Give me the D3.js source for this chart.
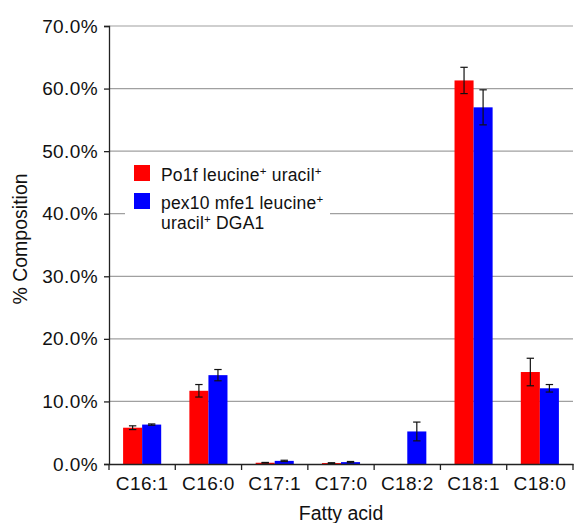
<!DOCTYPE html>
<html>
<head>
<meta charset="utf-8">
<script src="https://cdn.jsdelivr.net/npm/d3@7"></script>
<style>
  body { margin: 0; background: #fff; }
  text { font-family: "Liberation Sans", Arial, Helvetica, sans-serif; fill: #111; }
</style>
</head>
<body>
<div id="draw"></div>
<script>
// categories and series
var categories = ["C16:1", "C16:0", "C17:1", "C17:0", "C18:2", "C18:1", "C18:0"];
var seriesNames = ["Po1f", "pex10"];
var po1fValues = [5.8, 11.7, 0.2, 0.15, 0, 61.3, 14.7];
var po1fErrors = [0.3, 1.0, 0.05, 0.05, 0, 2.1, 2.2];
var pex10Values = [6.3, 14.2, 0.5, 0.3, 5.2, 57.0, 12.1];
var pex10Errors = [0.1, 0.9, 0.1, 0.1, 1.5, 2.8, 0.6];
var yTicks = [0, 10, 20, 30, 40, 50, 60, 70];
var colors = ["#ff0000", "#0000ff"];

var w = 574, h = 523;
var plotLeft = 109, plotRight = 573, plotTop = 26, plotBottom = 464;

var svg = d3.select("#draw").append("svg")
    .attr("width", w)
    .attr("height", h);

var x = d3.scaleBand().domain(categories).range([plotLeft, plotRight]);
var x1 = d3.scaleBand().domain(seriesNames).range([0, x.bandwidth()])
    .paddingInner(0).paddingOuter(0.74);
var y = d3.scaleLinear().domain([0, 70]).range([plotBottom, plotTop]);

//网格线
svg.append("g").selectAll("line")
    .data(yTicks.filter(function(d) { return d > 0; }))
    .enter().append("line")
    .attr("x1", plotLeft).attr("x2", plotRight)
    .attr("y1", function(d) { return y(d); })
    .attr("y2", function(d) { return y(d); })
    .attr("stroke", "#a0a0a0")
    .attr("stroke-width", 1.2);

// 数据整理
var rows = [];
categories.forEach(function(c, i) {
    rows.push({cat: c, s: "Po1f", v: po1fValues[i], e: po1fErrors[i], k: 0});
    rows.push({cat: c, s: "pex10", v: pex10Values[i], e: pex10Errors[i], k: 1});
});

//柱子
svg.append("g").selectAll("rect")
    .data(rows.filter(function(d) { return d.v > 0; }))
    .enter().append("rect")
    .attr("x", function(d) { return x(d.cat) + x1(d.s); })
    .attr("y", function(d) { return y(d.v); })
    .attr("width", x1.bandwidth())
    .attr("height", function(d) { return y(0) - y(d.v); })
    .attr("fill", function(d) { return colors[d.k]; });

//误差线
var eb = svg.append("g").attr("stroke", "#111").attr("stroke-width", 1.2);
rows.filter(function(d) { return d.v > 0; }).forEach(function(d) {
    var cx = x(d.cat) + x1(d.s) + x1.bandwidth() / 2;
    var y1 = y(d.v + d.e), y2 = y(Math.max(0, d.v - d.e));
    eb.append("line").attr("x1", cx).attr("x2", cx).attr("y1", y1).attr("y2", y2);
    eb.append("line").attr("x1", cx - 3.7).attr("x2", cx + 3.7).attr("y1", y1).attr("y2", y1);
    eb.append("line").attr("x1", cx - 3.7).attr("x2", cx + 3.7).attr("y1", y2).attr("y2", y2);
});

// y 轴
var yAxis = svg.append("g")
    .attr("transform", "translate(" + plotLeft + ",0)")
    .call(d3.axisLeft(y).tickValues(yTicks).tickSize(5).tickPadding(6)
        .tickFormat(function(d) { return d.toFixed(1) + "%"; }));
yAxis.select(".domain").attr("stroke", "#222").attr("stroke-width", 1.3);
yAxis.selectAll(".tick line").attr("stroke", "#222").attr("stroke-width", 1.3);
yAxis.selectAll("text")
    .attr("font-size", "19px")
    .attr("font-family", "Liberation Sans, Arial, sans-serif")
    .attr("letter-spacing", "0.4px")
    .attr("fill", "#111");

// x 轴
var xAxis = svg.append("g")
    .attr("transform", "translate(0," + plotBottom + ")")
    .call(d3.axisBottom(x).tickSize(0).tickPadding(13));
xAxis.select(".domain").attr("stroke", "#222").attr("stroke-width", 1.3);
xAxis.selectAll("text")
    .attr("font-size", "19px")
    .attr("font-family", "Liberation Sans, Arial, sans-serif")
    .attr("letter-spacing", "0.4px")
    .attr("fill", "#111");
svg.append("g").selectAll("line")
    .data(categories.concat(["end"]))
    .enter().append("line")
    .attr("x1", function(d, i) { return plotLeft + i * x.step(); })
    .attr("x2", function(d, i) { return plotLeft + i * x.step(); })
    .attr("y1", plotBottom).attr("y2", plotBottom + 6)
    .attr("stroke", "#222").attr("stroke-width", 1.3);

//轴标题
svg.append("text")
    .attr("x", (plotLeft + plotRight) / 2)
    .attr("y", 520)
    .attr("text-anchor", "middle")
    .attr("font-size", "19.5px")
    .text("Fatty acid");
svg.append("text")
    .attr("transform", "translate(27,239) rotate(-90)")
    .attr("text-anchor", "middle")
    .attr("font-size", "19.5px")
    .text("% Composition");

//图例
var lg = svg.append("g");
lg.append("rect")
    .attr("x", 125).attr("y", 156)
    .attr("width", 205).attr("height", 80)
    .attr("fill", "#fff");
var legendRows = [
    {c: colors[0], y: 165, lines: [["Po1f leucine", "+", " uracil", "+"]]},
    {c: colors[1], y: 193, lines: [["pex10 mfe1 leucine", "+"], ["uracil", "+", " DGA1"]]}
];
legendRows.forEach(function(r) {
    lg.append("rect")
        .attr("x", 134).attr("y", r.y)
        .attr("width", 16).attr("height", 16)
        .attr("fill", r.c);
    r.lines.forEach(function(parts, li) {
        var t = lg.append("text")
            .attr("x", 161)
            .attr("y", r.y + 16 + li * 19.5)
            .attr("font-size", "17.5px")
            .attr("letter-spacing", "0.2px");
        var shift = 0;
        parts.forEach(function(p) {
            var ts = t.append("tspan");
            if (p === "+") {
                ts.attr("font-size", "11.5px").attr("dy", -6);
                shift = 6;
            } else if (shift) {
                ts.attr("dy", shift);
                shift = 0;
            }
            ts.text(p);
        });
    });
});
</script>
</body>
</html>
